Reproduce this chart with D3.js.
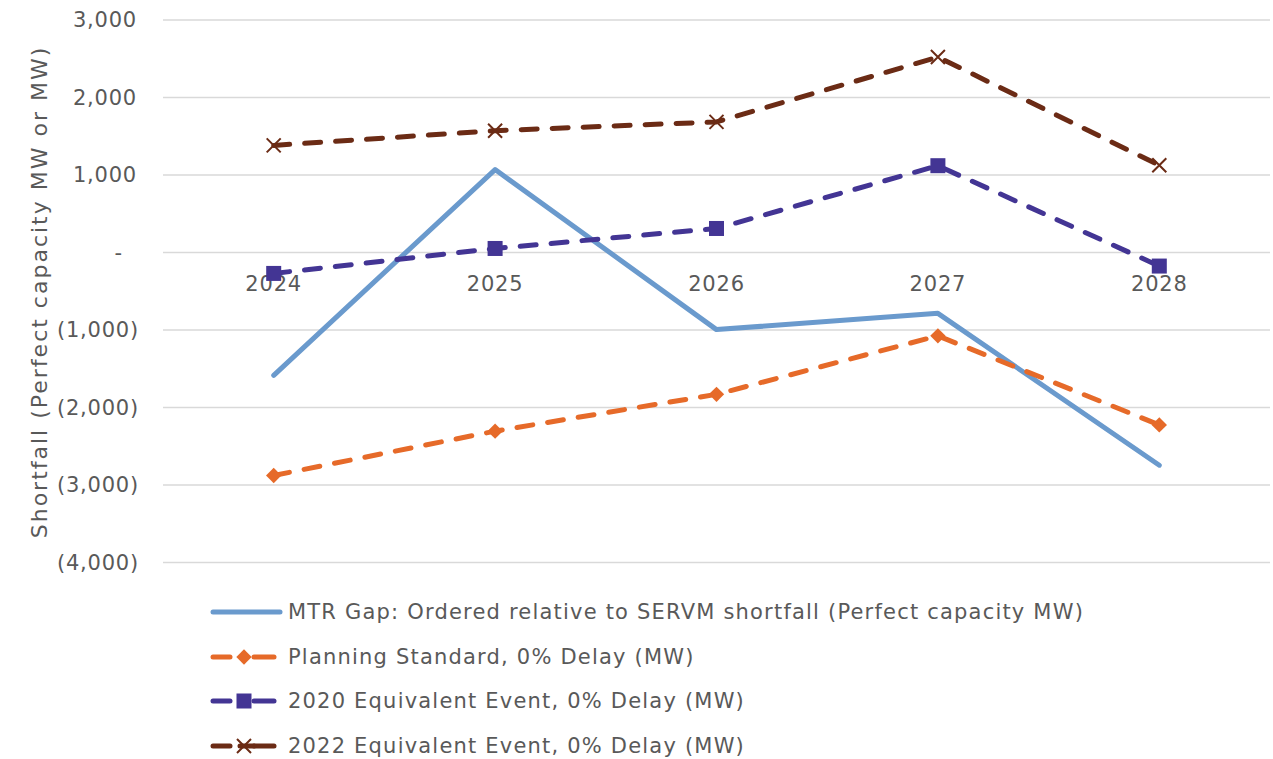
<!DOCTYPE html>
<html><head><meta charset="utf-8">
<script src="https://cdn.jsdelivr.net/npm/d3@7"></script>
<style>body{margin:0;background:#fff}svg{display:block}</style>
</head><body><svg id="c" width="1273" height="759"></svg>
<script>
const years = ["2024","2025","2026","2027","2028"];
const mtrGap = [-1585, 1070, -995, -785, -2745];
const planning = [-2877, -2305, -1830, -1075, -2225];
const event2020 = [-270, 52, 310, 1120, -175];
const event2022 = [1382, 1572, 1685, 2522, 1125];
const yTicks = [3000, 2000, 1000, 0, -1000, -2000, -3000, -4000];
const seriesNames = [
  "MTR Gap: Ordered relative to SERVM shortfall (Perfect capacity MW)",
  "Planning Standard, 0% Delay (MW)",
  "2020 Equivalent Event, 0% Delay (MW)",
  "2022 Equivalent Event, 0% Delay (MW)"
];
const yTitle = "Shortfall (Perfect capacity MW or MW)";

const series = [
  {name: seriesNames[0], values: mtrGap, color: "#6A9ACD", dash: null, marker: null},
  {name: seriesNames[1], values: planning, color: "#E66A29", dash: "16,15", marker: "diamond"},
  {name: seriesNames[2], values: event2020, color: "#433594", dash: "16,15", marker: "square"},
  {name: seriesNames[3], values: event2022, color: "#6B2B15", dash: "16,15", marker: "x"}
];

const font = "'DejaVu Sans', sans-serif";
const svg = d3.select("#c");
const x = d3.scaleBand().domain(years).range([163, 1270]);
const y = d3.scaleLinear().domain([-4000, 3000]).range([562.5, 20]);

// gridlines
svg.append("g").selectAll("line").data(yTicks).join("line")
  .attr("x1", 163).attr("x2", 1270)
  .attr("y1", d => y(d)).attr("y2", d => y(d))
  .attr("stroke", "#D9D9D9").attr("stroke-width", 1.5);

// y axis labels
const fmt = d => d === 0 ? "-" : (d < 0 ? "(" + d3.format(",")(-d) + ")" : d3.format(",")(d));
const yAxis = d3.axisLeft(y).tickValues(yTicks).tickFormat(fmt).tickSize(0).tickPadding(0);
const gy = svg.append("g").attr("transform", "translate(139,0)").call(yAxis);
gy.select(".domain").remove();
gy.selectAll("text").attr("font-family", font).attr("font-size", 21).attr("fill", "#595959")
  .attr("letter-spacing", 0.8)
  .attr("dx", d => d < 0 ? 0 : (d === 0 ? -16 : -2));

// x axis labels (next to zero line)
const xAxis = d3.axisBottom(x).tickSize(0).tickPadding(0);
const gx = svg.append("g").attr("transform", "translate(0," + (y(0) + 24) + ")").call(xAxis);
gx.select(".domain").remove();
gx.selectAll("text").attr("font-family", font).attr("font-size", 21).attr("fill", "#595959")
  .attr("letter-spacing", 0.8);

// y title
svg.append("text").attr("transform", "translate(47," + 292 + ") rotate(-90)")
  .attr("text-anchor", "middle").attr("font-family", font).attr("font-size", 22)
  .attr("letter-spacing", 2).attr("fill", "#595959").text(yTitle);

const line = d3.line().x((d, i) => x(years[i]) + x.bandwidth() / 2).y(d => y(d));

function drawMarker(g, type, cx, cy, color) {
  if (type === "diamond") {
    g.append("path").attr("d", d3.symbol().type(d3.symbolDiamond2 || d3.symbolDiamond).size(150)())
      .attr("transform", `translate(${cx},${cy})`).attr("fill", color);
  } else if (type === "square") {
    g.append("rect").attr("x", cx - 7.5).attr("y", cy - 7.5).attr("width", 15).attr("height", 15).attr("fill", color);
  } else if (type === "x") {
    g.append("path").attr("d", `M${cx-7},${cy-7}L${cx+7},${cy+7}M${cx-7},${cy+7}L${cx+7},${cy-7}`)
      .attr("stroke", color).attr("stroke-width", 2).attr("fill", "none");
  }
}

series.forEach(s => {
  const g = svg.append("g");
  g.append("path").datum(s.values).attr("d", line).attr("fill", "none")
    .attr("stroke", s.color).attr("stroke-width", 5).attr("stroke-linecap", "round")
    .attr("stroke-linejoin", "round").attr("stroke-dasharray", s.dash);
  if (s.marker) s.values.forEach((v, i) => drawMarker(g, s.marker, x(years[i]) + x.bandwidth() / 2, y(v), s.color));
});

// legend
const legendY = [612, 657, 701, 746];
series.forEach((s, i) => {
  const g = svg.append("g");
  const ly = legendY[i];
  if (s.marker) {
    g.append("line").attr("x1", 213).attr("x2", 230).attr("y1", ly).attr("y2", ly)
      .attr("stroke", s.color).attr("stroke-width", 5).attr("stroke-linecap", "round");
    g.append("line").attr("x1", 254).attr("x2", 274).attr("y1", ly).attr("y2", ly)
      .attr("stroke", s.color).attr("stroke-width", 5).attr("stroke-linecap", "round");
    if (s.marker === "x") {
      g.append("line").attr("x1", 240).attr("x2", 254).attr("y1", ly).attr("y2", ly)
        .attr("stroke", s.color).attr("stroke-width", 5).attr("stroke-linecap", "round");
    }
    drawMarker(g, s.marker, 244, ly, s.color);
  } else {
    g.append("line").attr("x1", 213).attr("x2", 280).attr("y1", ly).attr("y2", ly)
      .attr("stroke", s.color).attr("stroke-width", 5).attr("stroke-linecap", "round");
  }
  g.append("text").attr("x", 288).attr("y", ly).attr("dy", "0.35em")
    .attr("font-family", font).attr("font-size", 21).attr("letter-spacing", 1.2)
    .attr("fill", "#595959").text(s.name);
});
</script></body></html>
